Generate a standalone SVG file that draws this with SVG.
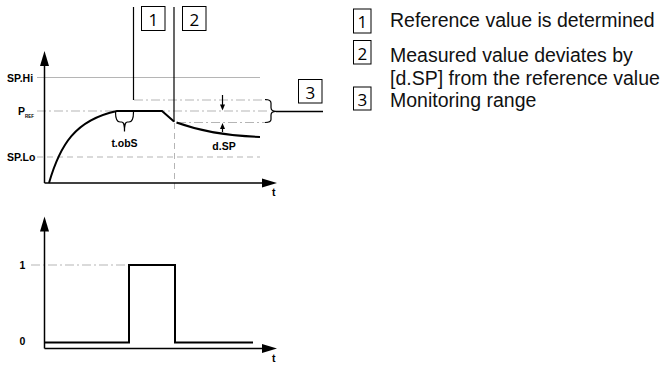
<svg xmlns="http://www.w3.org/2000/svg" width="669" height="367" viewBox="0 0 669 367">
<style>
.ax{stroke:#000;stroke-width:1.5;fill:none}
.ah{fill:#000}
.gs{stroke:#b5b5b5;stroke-width:1;fill:none}
.gdd{stroke:#b5b5b5;stroke-width:1;fill:none;stroke-dasharray:9 3 2 3}
.gd{stroke:#b5b5b5;stroke-width:1;fill:none;stroke-dasharray:6 4}
.sig{stroke:#000;stroke-width:2;fill:none}
.thin{stroke:#000;stroke-width:1.2;fill:none}
.box{fill:#fff;stroke:#000;stroke-width:1}
.lbl{font-family:"Liberation Sans",Arial,sans-serif;font-weight:bold;font-size:10.5px;fill:#000}
.num{font-family:"Open Sans","Noto Sans",sans-serif;font-size:17px;fill:#000;text-anchor:middle}
.leg{font-family:"Liberation Sans",Arial,sans-serif;font-size:19.5px;fill:#111}
</style>
<rect width="669" height="367" fill="#fff"/>

<g id="top-chart">
  <g id="reference-lines">
    <line class="gs" x1="37" y1="77.5" x2="260" y2="77.5"/>
    <line class="gdd" x1="37" y1="111" x2="268" y2="111"/>
    <line class="gd" x1="37" y1="157" x2="260" y2="157"/>
    <line class="gdd" x1="134" y1="100" x2="268" y2="100"/>
    <line class="gdd" x1="177" y1="122.5" x2="268" y2="122.5"/>
    <line class="gd" x1="174.5" y1="123" x2="174.5" y2="190"/>
  </g>
  <g id="top-axes">
    <line class="ax" x1="44.5" y1="183" x2="44.5" y2="64"/>
    <polygon class="ah" points="44.5,51 40,66 49,66"/>
    <line class="ax" x1="44.5" y1="183" x2="264" y2="183"/>
    <polygon class="ah" points="277,183 262,178.5 262,187.5"/>
    <text class="lbl" x="272" y="196">t</text>
  </g>
  <g id="top-labels">
    <text class="lbl" x="7" y="82">SP.Hi</text>
    <text class="lbl" x="18" y="114.5">P<tspan font-size="4.5" dy="3">REF</tspan></text>
    <text class="lbl" x="7" y="160.5">SP.Lo</text>
  </g>
  <g id="measured-curve">
    <path class="sig" d="M49,183 C60,145 75,120 117,111 L162,111 L174,121.5"/>
    <path class="sig" d="M176.5,122.5 C200,131 225,136 260,137"/>
  </g>
  <g id="marker-1">
    <line class="thin" x1="133.5" y1="7" x2="133.5" y2="100"/>
    <rect class="box" x="141.5" y="6.5" width="23.5" height="24"/>
    <text class="num" x="153.3" y="25.5">1</text>
  </g>
  <g id="marker-2">
    <line class="thin" x1="174" y1="7" x2="174" y2="122"/>
    <rect class="box" x="182.5" y="6.5" width="23.5" height="24"/>
    <text class="num" x="194.3" y="25.5">2</text>
  </g>
  <g id="t-obs">
    <path class="thin" d="M115.5,112 C115.5,119 116.5,122 120,122 L121.5,122 C123.5,122 124.5,123.5 124.5,131.5 M133.5,112 C133.5,119 132.5,122 129,122 L127.5,122 C125.5,122 124.5,123.5 124.5,131.5"/>
    <text class="lbl" x="124.5" y="146.5" text-anchor="middle">t.obS</text>
  </g>
  <g id="d-sp">
    <line class="thin" x1="222.5" y1="95" x2="222.5" y2="106"/>
    <polygon class="ah" points="222.5,110.5 220,104.5 225,104.5"/>
    <line class="thin" x1="222.5" y1="132" x2="222.5" y2="127"/>
    <polygon class="ah" points="222.5,123 220,129 225,129"/>
    <text class="lbl" x="224" y="150" text-anchor="middle">d.SP</text>
  </g>
  <g id="marker-3">
    <path class="thin" d="M265,99.5 C269,99.5 271,100.5 271,103 L271,107.5 C271,110 272,111.3 276,111.3 C272,111.3 271,112.5 271,115 L271,119.5 C271,121.5 269,122.5 265,122.5"/>
    <line x1="276" y1="111.5" x2="323" y2="111.5" stroke="#000" stroke-width="1.6"/>
    <rect class="box" x="298.5" y="79.5" width="23.5" height="23.5"/>
    <text class="num" x="310.3" y="98.5">3</text>
  </g>
</g>

<g id="bottom-chart">
  <line class="gdd" x1="31" y1="265" x2="129" y2="265"/>
  <line class="ax" x1="44.5" y1="348.5" x2="44.5" y2="229"/>
  <polygon class="ah" points="44.5,216.5 40,231.5 49,231.5"/>
  <line class="ax" x1="44.5" y1="348.5" x2="264" y2="348.5"/>
  <polygon class="ah" points="277,348.5 262,344 262,353"/>
  <text class="lbl" x="272" y="362">t</text>
  <text class="lbl" x="19.5" y="268.5">1</text>
  <text class="lbl" x="19.5" y="345">0</text>
  <path class="sig" d="M44.5,342.5 L129,342.5 L129,265 L175,265 L175,342.5 L253,342.5"/>
</g>

<g id="legend">
  <g id="legend-1">
    <rect class="box" x="353.5" y="9" width="17.5" height="24"/>
    <text class="num" x="362.3" y="28" font-size="18">1</text>
    <text class="leg" x="390" y="27">Reference value is determined</text>
  </g>
  <g id="legend-2">
    <rect class="box" x="353.5" y="40.5" width="17.5" height="23.5"/>
    <text class="num" x="362.3" y="59.5" font-size="18">2</text>
    <text class="leg" x="390" y="61.5">Measured value deviates by</text>
    <text class="leg" x="390" y="84.5">[d.SP] from the reference value</text>
  </g>
  <g id="legend-3">
    <rect class="box" x="353.5" y="87" width="17.5" height="23"/>
    <text class="num" x="362.3" y="106" font-size="18">3</text>
    <text class="leg" x="390" y="106.5">Monitoring range</text>
  </g>
</g>
</svg>
